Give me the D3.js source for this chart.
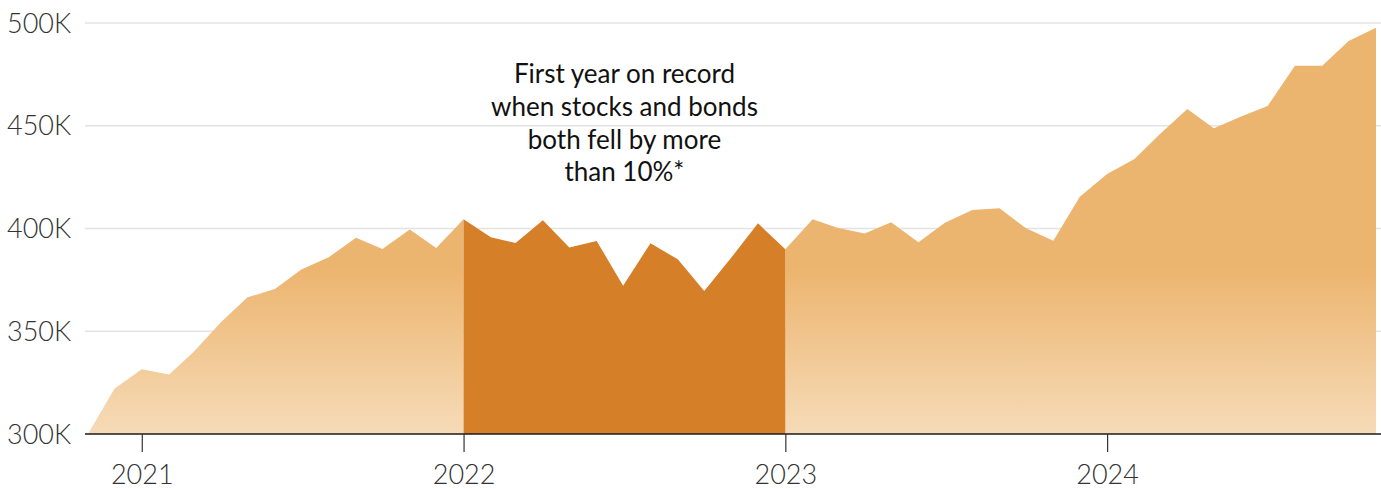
<!DOCTYPE html>
<html>
<head>
<meta charset="utf-8">
<script src="https://cdn.jsdelivr.net/npm/d3@7"></script>
<style>
  html, body { margin: 0; padding: 0; background: #fff; }
  svg { display: block; }
  text { font-family: Lato, "Open Sans", sans-serif; }
</style>
</head>
<body>
<svg id="chart" width="1381" height="489"></svg>
<script>
// Monthly portfolio value (thousands), first of each month
const months = [
  "2020-11","2020-12",
  "2021-01","2021-02","2021-03","2021-04","2021-05","2021-06","2021-07","2021-08","2021-09","2021-10","2021-11","2021-12",
  "2022-01","2022-02","2022-03","2022-04","2022-05","2022-06","2022-07","2022-08","2022-09","2022-10","2022-11","2022-12",
  "2023-01","2023-02","2023-03","2023-04","2023-05","2023-06","2023-07","2023-08","2023-09","2023-10","2023-11","2023-12",
  "2024-01","2024-02","2024-03","2024-04","2024-05","2024-06","2024-07","2024-08","2024-09","2024-10","2024-11"
];
const values = [
  300, 322,
  331.5, 329, 340, 354.5, 366.5, 370.5, 380, 386, 395.5, 390, 399.5, 390.5,
  404.5, 395.7, 393, 404, 390.7, 393.9, 372.2, 392.8, 385, 369.6, 386, 402.5,
  389.9, 404.5, 400.4, 397.6, 403, 393.3, 402.8, 409, 409.8, 400.1, 394, 415.5,
  426.5, 433.8, 446, 458.2, 448.8, 454.5, 459.6, 479.2, 479.2, 491.2, 497.7
];
const highlightStart = "2022-01";
const highlightEnd = "2023-01";
const yTicks = [300, 350, 400, 450, 500];
const yTickLabels = ["300K", "350K", "400K", "450K", "500K"];
const xTickYears = ["2021", "2022", "2023", "2024"];
const annotationLines = ["First year on record", "when stocks and bonds", "both fell by more", "than 10%*"];

const parse = d3.timeParse("%Y-%m");
const data = months.map((m, i) => ({ date: parse(m), value: values[i] }));
const hs = parse(highlightStart), he = parse(highlightEnd);

const svg = d3.select("#chart");
const x = d3.scaleTime().domain(d3.extent(data, d => d.date)).range([88, 1376]);
const y = d3.scaleLinear().domain([300, 500]).range([434, 23]);

// gradient
const defs = svg.append("defs");
const grad = defs.append("linearGradient").attr("id", "lightGrad")
  .attr("gradientUnits", "userSpaceOnUse")
  .attr("x1", 0).attr("x2", 0).attr("y1", y(380)).attr("y2", y(300));
grad.append("stop").attr("offset", "0%").attr("stop-color", "#ECB56F");
grad.append("stop").attr("offset", "100%").attr("stop-color", "#F6DBB8");

// gridlines
svg.append("g").selectAll("line").data(yTicks.filter(v => v > 300)).join("line")
  .attr("x1", 85).attr("x2", 1381)
  .attr("y1", d => y(d)).attr("y2", d => y(d))
  .attr("stroke", "#e3e3e3").attr("stroke-width", 1.6);

// areas
const area = d3.area().x(d => x(d.date)).y0(y(300)).y1(d => y(d.value));
const left = data.filter(d => d.date <= hs);
const mid = data.filter(d => d.date >= hs && d.date <= he);
const right = data.filter(d => d.date >= he);
svg.append("path").datum(left).attr("d", area).attr("fill", "url(#lightGrad)");
svg.append("path").datum(right).attr("d", area).attr("fill", "url(#lightGrad)");
svg.append("path").datum(mid).attr("d", area).attr("fill", "#D67F29");

// y labels
svg.append("g").selectAll("text").data(yTicks).join("text")
  .attr("x", 7).attr("y", d => y(d)).attr("dy", "0.36em")
  .attr("font-size", 27).attr("font-weight", 300).attr("fill", "#333")
  .text((d, i) => yTickLabels[i]);

// baseline
svg.append("line").attr("x1", 85).attr("x2", 1381).attr("y1", y(300)).attr("y2", y(300))
  .attr("stroke", "#1a1a1a").attr("stroke-width", 1.4);

// x axis ticks
const xTickDates = xTickYears.map(s => d3.timeParse("%Y")(s));
const xg = svg.append("g").attr("transform", `translate(0,${y(300)})`);
xg.call(d3.axisBottom(x).tickValues(xTickDates).tickFormat(d3.timeFormat("%Y")).tickSize(18).tickPadding(13));
xg.select(".domain").remove();
xg.selectAll(".tick line").attr("stroke", "#333").attr("stroke-width", 1.2);
xg.selectAll(".tick text").attr("font-family", "Lato, sans-serif").attr("font-size", 27)
  .attr("font-weight", 300).attr("fill", "#333");

// annotation
const cx = (x(hs) + x(he)) / 2;
svg.append("g").selectAll("text").data(annotationLines).join("text")
  .attr("x", cx).attr("y", (d, i) => 83 + i * 32.8)
  .attr("text-anchor", "middle").attr("font-size", 26).attr("font-weight", 400)
  .attr("fill", "#111").text(d => d);
</script>
</body>
</html>
